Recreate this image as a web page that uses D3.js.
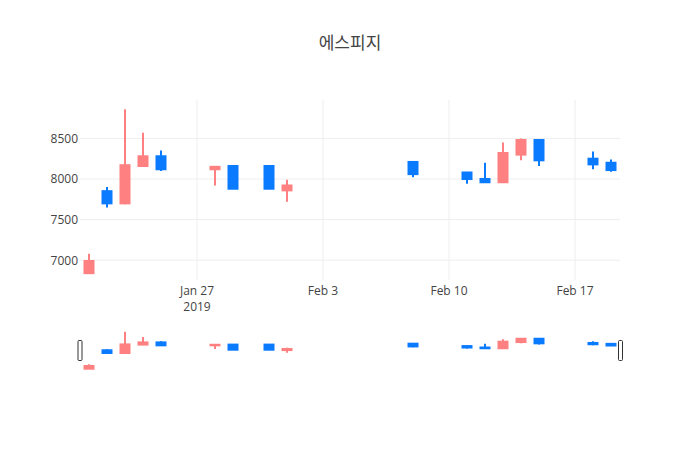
<!DOCTYPE html>
<html>
<head>
<meta charset="utf-8">
<script src="https://cdn.jsdelivr.net/npm/d3@7"></script>
<style>
	body { margin: 0; background: white; }
	text { font-family: "Open Sans", "Noto Sans CJK KR", sans-serif; fill: #444; }
</style>
</head>
<body>
<script>
var dates = ["2019-01-21", "2019-01-22", "2019-01-23", "2019-01-24", "2019-01-25",
	"2019-01-28", "2019-01-29", "2019-01-31", "2019-02-01", "2019-02-08",
	"2019-02-11", "2019-02-12", "2019-02-13", "2019-02-14", "2019-02-15",
	"2019-02-18", "2019-02-19"];
var open  = [6840, 7850, 7700, 8160, 8280, 8120, 8160, 8160, 7860, 8210, 8080, 8000, 7960, 8300, 8480, 8250, 8200];
var high  = [7080, 7900, 8860, 8570, 8350, 8150, 8170, 8170, 7990, 8210, 8080, 8200, 8450, 8500, 8480, 8340, 8240];
var low   = [6840, 7650, 7690, 8160, 8100, 7920, 7880, 7880, 7720, 8020, 7940, 7960, 7960, 8230, 8160, 8120, 8090];
var close = [6990, 7700, 8170, 8280, 8120, 8150, 7880, 7880, 7920, 8060, 8000, 7960, 8320, 8480, 8230, 8180, 8110];
var yTicks = [7000, 7500, 8000, 8500];
var title = "에스피지";

var w = 700, h = 450;
var incColor = "#ff8080", decColor = "#0a7bff";
var parse = d3.timeParse("%Y-%m-%d");
var data = dates.map(function(d, i) {
	return { date: parse(d), o: open[i], h: high[i], l: low[i], c: close[i] };
});

var svg = d3.select("body")
		.append("svg")
		.attr("width", w)
		.attr("height", h);

var halfDay = 12 * 3600 * 1000;
var x = d3.scaleTime()
		.domain([new Date(data[0].date.getTime() - halfDay), new Date(data[data.length - 1].date.getTime() + halfDay)])
		.range([80, 620]);
var y = d3.scaleLinear().domain([6756, 8973]).range([280, 100]);
var ySlider = d3.scaleLinear().domain([6756, 8973]).range([370.25, 329.75]);

var dayPx = x(new Date(2019, 0, 22)) - x(new Date(2019, 0, 21));
var half = dayPx * 0.25;

// title
svg.append("text")
	.attr("x", w / 2)
	.attr("y", 49)
	.attr("text-anchor", "middle")
	.style("font-size", "17px")
	.text(title);

// grid
var weekTicks = x.ticks(d3.timeWeek.every(1));
svg.selectAll(".vgrid").data(weekTicks).enter()
	.append("line")
	.attr("x1", function(d) { return x(d); })
	.attr("x2", function(d) { return x(d); })
	.attr("y1", 100).attr("y2", 280)
	.attr("stroke", "#eee").attr("stroke-width", 1);
svg.selectAll(".hgrid").data(yTicks).enter()
	.append("line")
	.attr("x1", 80).attr("x2", 620)
	.attr("y1", function(d) { return y(d); })
	.attr("y2", function(d) { return y(d); })
	.attr("stroke", "#eee").attr("stroke-width", 1);

// y labels
svg.selectAll(".ylab").data(yTicks).enter()
	.append("text")
	.attr("x", 78)
	.attr("y", function(d) { return y(d); })
	.attr("dy", "0.36em")
	.attr("text-anchor", "end")
	.style("font-size", "12px")
	.text(function(d) { return d; });

// x labels
var fmt = d3.timeFormat("%b %-d");
weekTicks.forEach(function(d, i) {
	var t = svg.append("text")
			.attr("x", x(d))
			.attr("y", 295)
			.attr("text-anchor", "middle")
			.style("font-size", "12px")
			.text(fmt(d));
	if (i == 0) {
		svg.append("text")
			.attr("x", x(d))
			.attr("y", 311)
			.attr("text-anchor", "middle")
			.style("font-size", "12px")
			.text(d3.timeFormat("%Y")(d));
	}
});

function candles(g, ys) {
	data.forEach(function(d) {
		var col = d.c >= d.o ? incColor : decColor;
		var cx = x(d.date);
		g.append("line")
			.attr("x1", cx).attr("x2", cx)
			.attr("y1", ys(d.h)).attr("y2", ys(d.l))
			.attr("stroke", col).attr("stroke-width", 2);
		var top = ys(Math.max(d.o, d.c)), bot = ys(Math.min(d.o, d.c));
		g.append("rect")
			.attr("x", cx - half)
			.attr("y", top)
			.attr("width", half * 2)
			.attr("height", Math.max(bot - top, 0.5))
			.attr("fill", col)
			.attr("stroke", col)
			.attr("stroke-width", 2);
	});
}

var mainG = svg.append("g");
candles(mainG, y);

// range slider
var sliderG = svg.append("g");
candles(sliderG, ySlider);
[78, 618.5].forEach(function(hx) {
	svg.append("rect")
		.attr("x", hx)
		.attr("y", 340.5)
		.attr("width", 4)
		.attr("height", 20)
		.attr("rx", 1)
		.attr("fill", "#fff")
		.attr("stroke", "#333")
		.attr("stroke-width", 1);
});
</script>
</body>
</html>
